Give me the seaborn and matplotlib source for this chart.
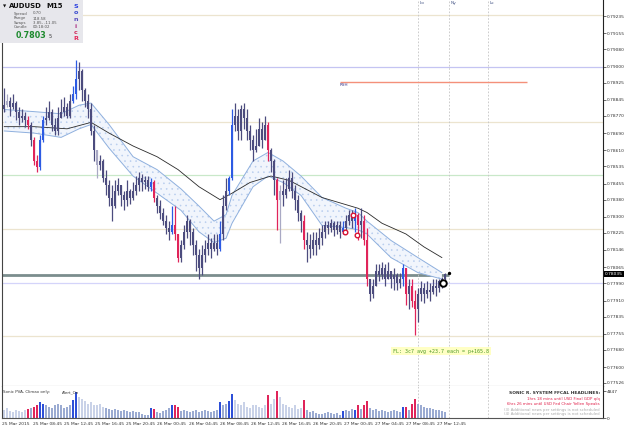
import numpy as np
import pandas as pd
import matplotlib
matplotlib.use("Agg")
import matplotlib.pyplot as plt
from matplotlib.patches import Rectangle
import seaborn as sns

# ---------------- data (prices in pips, 1 pip = 0.0001) ----------------
open_first = 7880
close_pips = [7882,7884,7881,7883,7879,7876,7877,7875,7873,7866,
              7856,7853,7866,7875,7876,7879,7873,7870,7876,7879,
              7881,7877,7884,7887,7894,7898,7889,7884,7880,7870,
              7861,7854,7856,7848,7845,7839,7835,7842,7845,7840,
              7838,7842,7839,7842,7845,7848,7846,7847,7844,7846,
              7839,7835,7832,7828,7825,7823,7826,7822,7811,7817,
              7823,7828,7823,7817,7812,7806,7812,7815,7818,7815,
              7818,7815,7822,7835,7842,7848,7873,7877,7870,7880,
              7876,7870,7866,7861,7863,7871,7866,7873,7861,7856,
              7847,7838,7842,7840,7843,7848,7842,7838,7832,7828,
              7819,7817,7815,7819,7817,7820,7823,7826,7825,7827,
              7824,7826,7823,7825,7828,7831,7828,7831,7826,7828,
              7819,7801,7794,7798,7805,7803,7806,7801,7805,7801,
              7803,7799,7801,7806,7794,7798,7791,7787,7794,7797,
              7794,7796,7795,7798,7797,7800,7801,7803.5]
high_pips = [7890,7887,7886,7887,7884,7881,7880,7879,7877,7874,
             7867,7859,7868,7877,7881,7884,7880,7876,7881,7885,
             7886,7883,7887,7891,7903,7902,7899,7890,7887,7883,
             7873,7861,7859,7857,7852,7847,7845,7847,7848,7845,
             7842,7847,7843,7846,7849,7851,7850,7849,7849,7848,
             7847,7840,7838,7834,7831,7828,7835,7835,7822,7819,
             7826,7831,7829,7825,7819,7815,7817,7819,7822,7820,
             7822,7822,7828,7840,7848,7849,7880,7883,7880,7882,
             7883,7880,7873,7868,7871,7876,7874,7877,7874,7862,
             7857,7848,7845,7847,7848,7852,7851,7845,7840,7833,
             7831,7823,7822,7823,7823,7825,7826,7828,7828,7829,
             7828,7828,7828,7828,7831,7833,7833,7834,7832,7834,
             7831,7825,7801,7801,7808,7808,7809,7808,7809,7805,
             7806,7804,7804,7808,7805,7801,7801,7796,7797,7800,
             7799,7800,7799,7801,7801,7801,7802,7804]
low_pips = [7879,7881,7877,7880,7875,7873,7874,7872,7871,7863,
            7854,7851,7852,7865,7873,7875,7870,7868,7868,7876,
            7877,7876,7876,7883,7885,7889,7884,7881,7876,7868,
            7856,7848,7852,7846,7840,7835,7828,7834,7840,7835,
            7833,7835,7836,7838,7840,7842,7842,7843,7842,7842,
            7837,7832,7829,7826,7822,7819,7822,7819,7809,7809,
            7815,7820,7817,7812,7805,7801,7803,7809,7812,7811,
            7814,7812,7814,7819,7833,7840,7847,7870,7866,7866,
            7871,7866,7861,7856,7860,7863,7862,7866,7856,7851,
            7840,7824,7818,7835,7839,7842,7839,7833,7828,7823,
            7815,7809,7811,7812,7812,7815,7817,7820,7822,7823,
            7821,7822,7820,7822,7823,7826,7825,7823,7819,7820,
            7817,7798,7791,7792,7798,7800,7801,7798,7801,7797,
            7796,7796,7797,7798,7789,7787,7788,7775,7781,7791,
            7790,7792,7791,7794,7793,7795,7797,7798]
volume = [1500,1850,1300,1100,1500,1300,1100,1500,1700,1850,
          2050,2250,2800,2600,2400,2050,1850,2250,2600,2400,
          1850,2050,2400,3150,4700,3700,3350,3000,2600,2800,
          2400,2250,2600,2050,1850,1700,1500,1700,1500,1300,
          1500,1300,1100,1300,1100,1100,750,550,550,1850,
          1700,1100,950,1300,1500,1850,2250,2400,2050,1300,
          1500,1300,1100,1300,1500,1100,1300,1500,1300,1100,
          1300,1500,2800,2250,2600,3000,4300,3150,2600,2250,
          2800,2050,1850,2400,2250,2050,1850,2250,4100,2600,
          3350,4847,3700,2600,2250,2050,1850,2250,1700,1850,
          3150,1500,1100,1300,950,750,750,950,1100,950,
          750,950,600,1300,1500,1300,1700,1500,2250,1700,
          2250,3000,1850,1500,1700,1300,1500,1300,1100,1300,
          1500,1300,1100,2050,2050,1500,2600,3500,2600,2250,
          2050,1850,1850,1700,1500,1500,1300,1100]
red_bars = [8, 10, 11, 50, 57, 58, 88, 91, 100, 118, 120, 121, 134, 136, 137]
blue_bars = [12, 13, 23, 24, 49, 56, 72, 75, 76, 113, 117, 133]
light_bars = [1, 31, 92]
light_volume = [0,1,2,3,4,5,6,7,25,26,27,28,29,30,31,32,33,77,78,79,80,81,82,
                83,84,85,86,87,89,90,92,93,94,95,96,97,98,99]

band_idx = [0,10,19,25,29,35,43,51,59,65,70,74,76,83,88,93,99,106,114,118,121,129,138,146]
band_upper = [7880,7879,7878,7882,7883,7873,7858,7852,7843,7835,7828,7831,7840,7856,
              7860,7856,7849,7839,7834,7832,7828,7819,7811,7804]
band_lower = [7870,7869,7867,7871,7873,7862,7849,7841,7833,7823,7818,7820,7827,7844,
              7849,7846,7840,7826,7825,7824,7822,7811,7804,7801]
ma_idx = [0,10,21,29,35,43,51,58,65,72,76,82,89,95,106,118,121,126,134,140,146]
ma_val = [7872,7872,7871,7874,7869,7863,7858,7852,7844,7838,7841,7846,7849,7847,
          7839,7834,7832,7827,7822,7816,7811]

level_lines = [0.79240, 0.79000, 0.78742, 0.78495, 0.78244, 0.77990, 0.77745]
level_colors = ['#ece4cf', '#c4c4f2', '#ece4cf', '#c9e8c9', '#ece4cf', '#d4d4fa', '#ece4cf']
current_price = 0.78035
rsh_level = 0.78928
session_names = ['Lo', 'Ny', 'Lc']
session_pos = [138, 148.3, 161.3]

circle_idx = [116.3, 113.7, 117.7]
circle_pips = [7831, 7823, 7821.5]
last_circle = (146.3, 7799.2)

ytick_vals = [0.79235,0.79155,0.79080,0.79000,0.78925,0.78845,0.78770,0.78690,0.78610,
              0.78535,0.78455,0.78380,0.78300,0.78225,0.78146,0.78065,0.77990,0.77910,
              0.77835,0.77755,0.77680,0.77600,0.77526]
ytick_labels = ['0.79235','0.79155','0.79080','0.79000','0.78925','0.78845','0.78770',
                '0.78690','0.78610','0.78535','0.78455','0.78380','0.78300','0.78225',
                '0.78146','0.78065','0.77990','0.77910','0.77835','0.77755','0.77680',
                '0.77600','0.77526']
xtick_labels = ['25 Mar 2015','25 Mar 08:45','25 Mar 12:45','25 Mar 16:45','25 Mar 20:45',
                '26 Mar 00:45','26 Mar 04:45','26 Mar 08:45','26 Mar 12:45','26 Mar 16:45',
                '26 Mar 20:45','27 Mar 00:45','27 Mar 04:45','27 Mar 08:45','27 Mar 12:45']

# ---------------- figure ----------------
sns.set_style("white")
plt.rcParams['font.family'] = ['DejaVu Sans']
plt.rcParams['hatch.linewidth'] = 0.4

W, H = 625, 429
fig = plt.figure(figsize=(W/100, H/100), dpi=100)
def fx(x): return x / W
def fy(y): return 1 - y / H

ax = fig.add_axes([fx(2), fy(386), fx(603) - fx(2), fy(0) - fy(386)])
axv = fig.add_axes([fx(2), fy(418), fx(603) - fx(2), fy(386) - fy(418)], sharex=ax)

close = np.array(close_pips, float) / 1e4
high = np.array(high_pips, float) / 1e4
low = np.array(low_pips, float) / 1e4
opens = np.r_[open_first / 1e4, close[:-1]]
high = np.maximum(high, np.maximum(opens, close))
low = np.minimum(low, np.minimum(opens, close))
n = len(close)
idx = np.arange(n)

col_map = {'n': '#4c4c7e', 'r': '#e0245a', 'b': '#2d5be3', 'l': '#a9a9c4'}
cls = ['n'] * n
for i in red_bars: cls[i] = 'r'
for i in blue_bars: cls[i] = 'b'
for i in light_bars: cls[i] = 'l'
ccols = [col_map[c] for c in cls]

ax.set_xlim(-0.7, 199.7)
ax.set_ylim(0.77512, 0.7931)

# level lines
for lv, lc in zip(level_lines, level_colors):
    ax.axhline(lv, color=lc, lw=0.9, zorder=1)
ax.hlines(current_price - 0.00005, -0.7, 148.3, color='#7b8d8d', lw=2.0, zorder=1)
ax.hlines(rsh_level, 112, 174.3, color='#f4907a', lw=1.0, zorder=2)
ax.text(112, rsh_level - 0.00004, 'RSH', fontsize=3, color='#33338a', va='top', ha='left')

# sessions
for nm, p in zip(session_names, session_pos):
    for a in (ax, axv):
        a.axvline(p, color='#c4c4c4', lw=0.6, ls=(0, (2, 2)), zorder=1)
    ax.text(p + 0.5, 0.79298, nm, fontsize=3.2, color='#4a5a8a', va='center', ha='left')

# dragon band + MA
up = np.array(band_upper) / 1e4
lo = np.array(band_lower) / 1e4
ax.fill_between(band_idx, lo, up, facecolor='#f1f5fc', edgecolor='#b8cdee', hatch='...',
                linewidth=0, zorder=2)
band_df = pd.DataFrame({'x': band_idx, 'up': up, 'lo': lo})
sns.lineplot(data=band_df, x='x', y='up', ax=ax, color='#8fb0de', lw=0.7,
             estimator=None, sort=False, legend=False, zorder=3)
sns.lineplot(data=band_df, x='x', y='lo', ax=ax, color='#8fb0de', lw=0.7,
             estimator=None, sort=False, legend=False, zorder=3)
ma_df = pd.DataFrame({'x': ma_idx, 'v': np.array(ma_val) / 1e4})
sns.lineplot(data=ma_df, x='x', y='v', ax=ax, color='#2a2a2a', lw=0.6,
             estimator=None, sort=False, legend=False, zorder=3)

# candles
ax.vlines(idx, low, high, colors=ccols, linewidth=0.9, zorder=4)
body = np.maximum(np.abs(close - opens), 0.00003)
ax.bar(idx, body, bottom=np.minimum(opens, close), width=0.78, color=ccols, linewidth=0, zorder=4)

# markers
ax.scatter(circle_idx, np.array(circle_pips) / 1e4, s=11, facecolor='white', edgecolor='#d81030',
           linewidth=1.0, zorder=6)
ax.scatter([last_circle[0]], [last_circle[1] / 1e4], s=22, facecolor='white', edgecolor='black',
           linewidth=1.4, zorder=6)
ax.scatter([148.3], [0.78040], s=2, color='black', zorder=6)

# FL label
ax.text(145.7, 0.77675, 'FL: 3c7 avg +23.7 each = p+165.8', fontsize=3.6, color='#4f9a2a',
        family='DejaVu Sans Mono', ha='center', va='center',
        bbox=dict(boxstyle='square,pad=0.35', facecolor='#ffffc4', edgecolor='none'), zorder=6)

# axes styling main
ax.yaxis.tick_right()
ax.set_yticks(ytick_vals)
ax.set_yticklabels(ytick_labels)
ax.tick_params(axis='y', labelsize=3.2, length=2, width=0.5, pad=1, colors='#333333', right=True)
ax.tick_params(axis='x', bottom=False, labelbottom=False)
ax.set_xlabel(''); ax.set_ylabel('')
ax.spines['top'].set_visible(False)
ax.spines['left'].set_color('#444444'); ax.spines['left'].set_linewidth(0.8)
ax.spines['right'].set_color('#222222'); ax.spines['right'].set_linewidth(0.8)
ax.spines['bottom'].set_color('#8a8a8a'); ax.spines['bottom'].set_linewidth(0.8)
ax.text(1.003, current_price, '0.78035', transform=ax.get_yaxis_transform(), fontsize=3.2,
        color='white', va='center', ha='left',
        bbox=dict(boxstyle='square,pad=0.2', facecolor='black', edgecolor='none'), clip_on=False)

# volume panel
vcol_map = {'n': '#9babd2', 'r': '#e0245a', 'b': '#2d4fd8', 'l': '#c9d2e8'}
vcls = list(cls)
for i in light_volume:
    if vcls[i] == 'n':
        vcls[i] = 'l'
for i in light_bars:
    vcls[i] = 'l'
vcols = [vcol_map[c] for c in vcls]
axv.bar(idx, volume, width=0.62, color=vcols, linewidth=0)
axv.set_ylim(0, 5745)
axv.yaxis.tick_right()
axv.set_yticks([0, 4847])
axv.set_yticklabels(['0', '4847'])
axv.tick_params(axis='y', labelsize=3.2, length=2, width=0.5, pad=1, colors='#333333')
xt = [-0.7 + 10.37 * k for k in range(len(xtick_labels))]
axv.set_xticks(xt)
axv.set_xticklabels(xtick_labels, ha='left')
axv.tick_params(axis='x', labelsize=3.2, length=2, width=0.5, pad=1, colors='#333333')
axv.spines['top'].set_visible(False)
axv.spines['left'].set_color('#444444'); axv.spines['left'].set_linewidth(0.8)
axv.spines['right'].set_color('#222222'); axv.spines['right'].set_linewidth(0.8)
axv.spines['bottom'].set_color('#555555'); axv.spines['bottom'].set_linewidth(0.8)
axv.set_xlabel(''); axv.set_ylabel('')

fig.text(fx(3), fy(392), 'Sonic PVA, Climax only:', fontsize=2.9, color='#333333', va='center')
fig.text(fx(62), fy(392), 'Alert_On', fontsize=2.9, color='#333333', va='center')
news = [('SONIC R. SYSTEM FFCAL HEADLINES:', 393, '#333333', 'bold', 3.2),
        ('1hrs 18 mins until USD Final GDP q/q', 399, '#e0204a', 'normal', 2.8),
        ('6hrs 26 mins until USD Fed Chair Yellen Speaks', 404, '#e0204a', 'normal', 2.8),
        ('(3) Additional news per settings is not scheduled', 409.5, '#aaaaaa', 'normal', 2.8),
        ('(4) Additional news per settings is not scheduled', 414.5, '#aaaaaa', 'normal', 2.8)]
for t, y, c, w, fs in news:
    fig.text(fx(600), fy(y), t, fontsize=fs, color=c, fontweight=w, ha='right', va='center')

# info box top-left
fig.add_artist(Rectangle((0, fy(43)), fx(83), 43 / H, transform=fig.transFigure,
                         facecolor='#e7e7ec', edgecolor='none', zorder=5))
fig.text(fx(2.5), fy(6), '▼', fontsize=3.0, color='#111111', va='center', zorder=6)
fig.text(fx(8.5), fy(6.5), 'AUDUSD', fontsize=5.0, fontweight='bold', color='#111111', va='center', zorder=6)
fig.text(fx(46), fy(6.5), 'M15', fontsize=5.0, fontweight='bold', color='#111111', va='center', zorder=6)
info_rows = [('Spread', '0.70', 13.5), ('Range', '118.58', 18.5),
             ('Swaps', '3.85, -11.05', 23), ('Candle', '00:18:02', 27.5)]
for lab, val, y in info_rows:
    fig.text(fx(14), fy(y), lab, fontsize=2.8, color='#555555', va='center', zorder=6)
    fig.text(fx(33), fy(y), val, fontsize=2.8, color='#555555', va='center', zorder=6)
fig.text(fx(16), fy(35.5), '0.7803', fontsize=5.8, fontweight='bold', color='#1d8a2e', va='center', zorder=6)
fig.text(fx(49), fy(36.5), '5', fontsize=3.6, color='#333333', va='center', zorder=6)
sonic = [('S', 6, '#2a3fe0'), ('o', 13, '#3d4fd0'), ('n', 19.5, '#5a4fc0'),
         ('i', 26.5, '#b03a8a'), ('c', 32, '#d03060'), ('R', 38.5, '#e4285a')]
for ch, y, c in sonic:
    fig.text(fx(76), fy(y), ch, fontsize=4.6, fontweight='bold', color=c, ha='center', va='center', zorder=6)

fig.savefig('out.png', dpi=100)
